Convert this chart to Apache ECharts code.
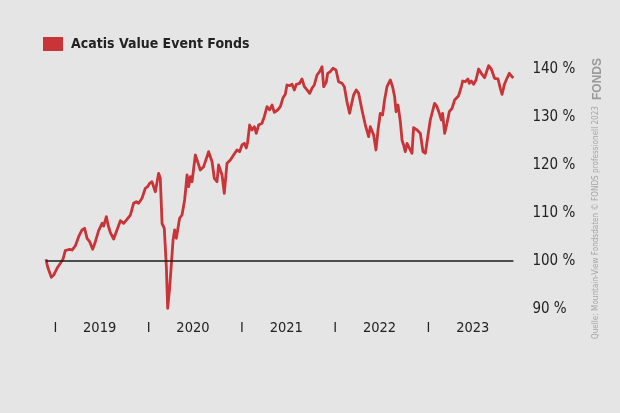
<!DOCTYPE html>
<html>
<head>
<meta charset="utf-8">
<script src="https://cdn.jsdelivr.net/npm/echarts@6/dist/echarts.min.js"></script>
<style>
html,body{margin:0;padding:0;background:#e5e5e5;}
#c{width:620px;height:413px;}
</style>
</head>
<body>
<div id="c"></div>
<script>
// time in decimal years
const t = [2018.900,2018.917,2018.936,2018.957,2018.982,2019.018,2019.054,2019.083,2019.107,2019.125,2019.153,2019.179,2019.214,2019.250,2019.286,2019.314,2019.340,2019.368,2019.400,2019.429,2019.464,2019.501,2019.518,2019.547,2019.565,2019.590,2019.625,2019.661,2019.697,2019.732,2019.768,2019.804,2019.839,2019.868,2019.893,2019.929,2019.965,2019.989,2020.011,2020.036,2020.072,2020.107,2020.125,2020.144,2020.168,2020.190,2020.204,2020.225,2020.240,2020.262,2020.279,2020.297,2020.332,2020.358,2020.386,2020.412,2020.429,2020.447,2020.465,2020.501,2020.519,2020.554,2020.590,2020.643,2020.680,2020.704,2020.733,2020.750,2020.787,2020.811,2020.840,2020.876,2020.911,2020.947,2020.975,2021.001,2021.026,2021.047,2021.061,2021.083,2021.108,2021.133,2021.154,2021.179,2021.215,2021.240,2021.269,2021.297,2021.323,2021.347,2021.383,2021.412,2021.441,2021.465,2021.483,2021.511,2021.537,2021.562,2021.583,2021.618,2021.644,2021.669,2021.698,2021.726,2021.751,2021.776,2021.805,2021.833,2021.859,2021.876,2021.905,2021.919,2021.947,2021.976,2022.009,2022.036,2022.073,2022.098,2022.126,2022.154,2022.173,2022.197,2022.226,2022.251,2022.287,2022.304,2022.323,2022.341,2022.358,2022.376,2022.394,2022.412,2022.437,2022.459,2022.483,2022.508,2022.529,2022.555,2022.591,2022.615,2022.637,2022.652,2022.673,2022.698,2022.716,2022.733,2022.751,2022.770,2022.787,2022.805,2022.823,2022.840,2022.877,2022.912,2022.941,2022.966,2022.995,2023.019,2023.038,2023.065,2023.091,2023.116,2023.137,2023.151,2023.173,2023.198,2023.223,2023.252,2023.280,2023.323,2023.352,2023.366,2023.394,2023.423,2023.437,2023.459,2023.483,2023.509,2023.537,2023.566,2023.601,2023.644,2023.673,2023.708,2023.745,2023.770,2023.788,2023.816,2023.841,2023.866,2023.895,2023.909];
// fund value in %
const v = [100.35,98.81,98.54,96.60,97.08,98.48,99.52,100.42,102.15,101.94,102.44,102.29,103.13,105.06,106.46,106.81,104.73,104.02,102.44,104.02,106.31,107.85,107.29,109.23,107.50,105.90,104.58,106.46,108.40,107.85,108.69,109.58,112.02,112.35,112.02,113.06,115.15,115.48,116.19,116.52,114.44,118.27,117.23,107.85,106.81,98.81,90.15,94.31,94.65,104.38,106.46,104.73,108.90,109.58,112.71,117.92,115.48,117.56,116.52,122.08,121.04,118.96,119.65,122.77,120.69,117.23,116.52,120.00,117.92,114.10,120.35,121.04,122.08,123.13,122.77,124.17,124.52,123.54,124.73,128.33,127.29,127.98,126.60,128.33,128.69,130.06,132.15,131.46,132.50,130.98,131.46,132.15,134.02,134.73,136.67,136.52,136.81,135.63,136.81,137.02,137.92,136.31,135.63,134.94,135.98,136.67,138.75,139.44,140.48,136.31,137.35,139.10,139.44,140.15,139.79,137.35,137.02,136.31,133.19,130.77,130.56,134.58,135.63,134.94,131.46,131.10,128.33,127.98,125.90,127.98,127.98,126.25,123.13,127.29,130.77,130.42,133.54,136.31,137.71,136.31,134.23,131.10,132.50,129.02,125.21,124.17,122.77,124.52,123.81,124.17,122.44,127.77,127.29,126.60,122.77,122.44,126.25,129.38,129.38,132.85,132.15,130.77,129.38,130.77,126.60,128.69,131.10,131.81,133.54,134.44,136.31,137.50,137.35,137.92,137.02,137.50,136.81,137.71,140.00,139.10,138.19,140.69,140.00,138.06,137.92,135.98,134.73,136.94,138.06,139.10,138.40,138.13];
const seriesName = 'Acatis Value Event Fonds';
const xTickValues = [2019,2019.475,2020,2020.475,2021,2021.475,2022,2022.475,2023,2023.475];
const xTickLabels = ['I','2019','I','2020','I','2021','I','2022','I','2023'];
const yTickValues = [90,100,110,120,130,140];
const baseline = 100;
const sourceText = 'Quelle: Mountain-View Fondsdaten \u00A9 FONDS professionell 2023';
const logoText = 'FONDS';

const FONT = "'DejaVu Sans Condensed','Liberation Sans Narrow',sans-serif";
const RED = '#c83437';
const chart = echarts.init(document.getElementById('c'));
chart.setOption({
  backgroundColor: '#e5e5e5',
  animation: false,
  textStyle: { fontFamily: FONT },
  grid: { left: 46, right: 106.6, top: 69, bottom: 104 },
  legend: {
    data: [seriesName], left: 38, top: 32, icon: 'rect',
    itemWidth: 20, itemHeight: 14, itemGap: 10,
    textStyle: { fontFamily: FONT, fontSize: 14, fontWeight: 'bold', color: '#222', padding: [0,0,0,3] }
  },
  xAxis: {
    type: 'value', min: 2018.9, max: 2023.91,
    axisLine: { show: false }, axisTick: { show: false }, splitLine: { show: false },
    axisLabel: {
      customValues: xTickValues,
      formatter: function (val) {
        const i = xTickValues.findIndex(function (x) { return Math.abs(x - val) < 1e-6; });
        return i >= 0 ? xTickLabels[i] : '';
      },
      fontFamily: FONT, fontSize: 14.5, color: '#222', margin: 12
    }
  },
  yAxis: {
    type: 'value', position: 'right', min: 90, max: 140,
    axisLine: { show: false }, axisTick: { show: false }, splitLine: { show: false },
    axisLabel: {
      customValues: yTickValues,
      formatter: '{value} %', fontFamily: FONT, fontSize: 15, color: '#222', margin: 19
    }
  },
  series: [{
    name: seriesName, type: 'line', showSymbol: false, clip: false,
    data: t.map(function (x, i) { return [x, v[i]]; }),
    itemStyle: { color: RED },
    lineStyle: { color: RED, width: 2.8, join: 'round' },
    markLine: {
      silent: true, symbol: ['none','none'], label: { show: false },
      lineStyle: { color: '#1a1a1a', width: 1.5, type: 'solid' },
      data: [{ yAxis: baseline }]
    },
    z: 3
  }],
  graphic: [
    { type: 'text', x: 596, y: 339, rotation: Math.PI / 2,
      style: { text: sourceText, fontFamily: FONT, fontSize: 8.1, fill: '#a5a5a5', align: 'left', verticalAlign: 'middle' } },
    { type: 'text', x: 598, y: 100, rotation: Math.PI / 2,
      style: { text: logoText, fontFamily: "'Liberation Sans',sans-serif", fontSize: 12, fontWeight: 'bold', fill: '#9a9a9a', align: 'left', verticalAlign: 'middle' } }
  ]
});
</script>
</body>
</html>
